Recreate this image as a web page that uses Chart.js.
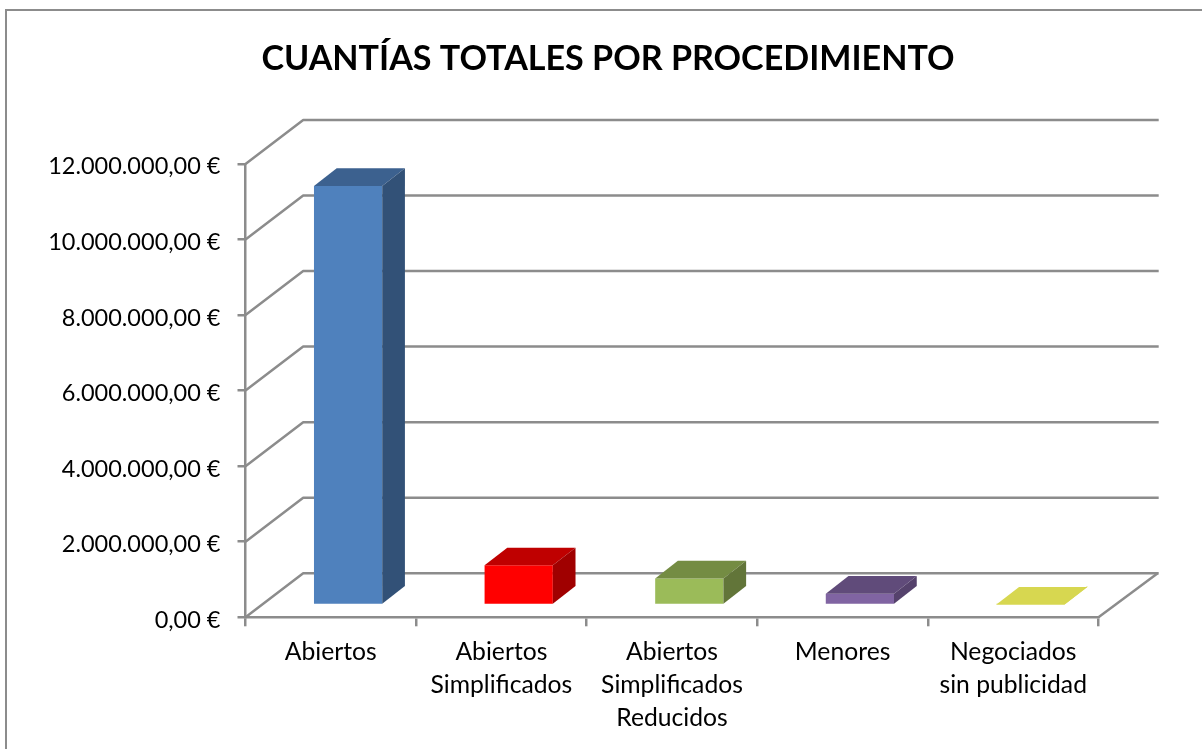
<!DOCTYPE html>
<html lang="es">
<head>
<meta charset="utf-8">
<title>Cuantías totales por procedimiento</title>
<script src="https://cdn.jsdelivr.net/npm/chart.js@4"></script>
<style>html,body{margin:0;padding:0;background:#fff}canvas{display:block}</style>
</head>
<body>
<canvas id="c" width="1202" height="749"></canvas>
<script>
const chartTitle = "CUANTÍAS TOTALES POR PROCEDIMIENTO";
const categories = [
  ["Abiertos"],
  ["Abiertos", "Simplificados"],
  ["Abiertos", "Simplificados", "Reducidos"],
  ["Menores"],
  ["Negociados", "sin publicidad"]
];
const values = [11090000, 1050000, 700000, 300000, 10000];
const frontColors = ["#4f81bd", "#ff0000", "#9bbb59", "#8064a2", "#d7d750"];
const topColors   = ["#3c618f", "#bf0000", "#748c43", "#604b7a", "#d7d750"];
const sideColors  = ["#325177", "#a00000", "#627539", "#55426c", "#d7d750"];

const GRAY = "#8c8c8c";
const LINE = 2.5;
const FONT = "Lato, Carlito, 'Open Sans', sans-serif";
const wall = {dx: 57.7, dy: -44};       // depth of the floor
const barShift = {dx: 17.3, dy: -12.3}; // bars stand inside the floor
const barDepth = {dx: 22.7, dy: -17.7};

function poly(ctx, pts, fill) {
  ctx.beginPath();
  pts.forEach((p, i) => i ? ctx.lineTo(p[0], p[1]) : ctx.moveTo(p[0], p[1]));
  ctx.closePath();
  ctx.fillStyle = fill;
  ctx.fill();
}

const box3d = {
  id: "box3d",
  beforeDraw(chart) {
    const ctx = chart.ctx;
    ctx.save();
    ctx.strokeStyle = GRAY;
    ctx.lineWidth = 2;
    ctx.beginPath();
    ctx.moveTo(6, chart.height);
    ctx.lineTo(6, 10);
    ctx.lineTo(chart.width, 10);
    ctx.stroke();
    ctx.restore();
  },
  beforeDatasetsDraw(chart) {
    const {ctx, chartArea: a, scales: {y}} = chart;
    ctx.save();
    ctx.strokeStyle = GRAY;
    ctx.lineWidth = LINE;
    ctx.lineJoin = "round";
    y.ticks.forEach((t, i) => {
      const py = y.getPixelForTick(i);
      ctx.beginPath();
      ctx.moveTo(a.left, py);
      ctx.lineTo(a.left + wall.dx, py + wall.dy);
      ctx.lineTo(a.right + wall.dx + 2.5, py + wall.dy);
      ctx.stroke();
    });
    const y0 = y.getPixelForValue(0);
    ctx.beginPath();
    ctx.moveTo(a.right, y0);
    ctx.lineTo(a.right + wall.dx + 1.5, y0 + wall.dy);
    ctx.stroke();
    ctx.restore();
    ctx.save();
    ctx.translate(barShift.dx, barShift.dy);
  },
  afterDatasetsDraw(chart) {
    const ctx = chart.ctx;
    const {dx, dy} = barDepth;
    chart.getDatasetMeta(0).data.forEach((bar, i) => {
      const {x, y, base, width} = bar.getProps(["x", "y", "base", "width"], true);
      const l = x - width / 2, r = x + width / 2;
      poly(ctx, [[l, y], [r, y], [r + dx, y + dy], [l + dx, y + dy]], topColors[i]);
      poly(ctx, [[r, y], [r + dx, y + dy], [r + dx, base + dy], [r, base]], sideColors[i]);
    });
    ctx.restore();
  }
};

new Chart(document.getElementById("c"), {
  type: "bar",
  plugins: [box3d],
  data: {
    labels: categories,
    datasets: [{
      data: values,
      backgroundColor: frontColors,
      borderWidth: 0,
      barPercentage: 0.4,
      categoryPercentage: 1,
      clip: false
    }]
  },
  options: {
    responsive: false,
    animation: false,
    layout: {autoPadding: false, padding: {left: 14, right: 0, top: 0, bottom: 0}},
    plugins: {
      legend: {display: false},
      tooltip: {enabled: false},
      title: {
        display: true,
        text: chartTitle,
        color: "#000",
        font: {family: FONT, size: 34.1, weight: "bold", lineHeight: 1.2},
        padding: {top: 39, bottom: 84}
      }
    },
    scales: {
      x: {
        afterFit(s) { s.height = 131.7; },
        border: {color: GRAY, width: LINE},
        grid: {drawOnChartArea: false, drawTicks: true, tickLength: 9, color: GRAY, lineWidth: LINE, offset: true},
        ticks: {color: "#000", font: {family: FONT, size: 24.7, lineHeight: 33 / 24.7}, maxRotation: 0, autoSkip: false, padding: 9}
      },
      y: {
        min: 0,
        max: 12000000,
        afterFit(s) { s.width = 231.5; },
        border: {color: GRAY, width: LINE},
        grid: {drawOnChartArea: false, drawTicks: true, tickLength: 8, color: GRAY, lineWidth: LINE},
        ticks: {
          stepSize: 2000000,
          color: "#000",
          font: {family: FONT, size: 23.5},
          padding: 17,
          labelOffset: 3,
          callback: v => v.toLocaleString("de-DE", {minimumFractionDigits: 2, maximumFractionDigits: 2}) + " €"
        }
      },
      // empty box on the right: keeps room for the floor's depth while the title stays centred on the frame
      depthSpace: {
        position: "right",
        min: 0,
        max: 1,
        afterFit(s) { s.width = 103.5; },
        border: {display: false},
        grid: {display: false, drawOnChartArea: false, drawTicks: false},
        ticks: {display: false}
      }
    }
  }
});
</script>
</body>
</html>
